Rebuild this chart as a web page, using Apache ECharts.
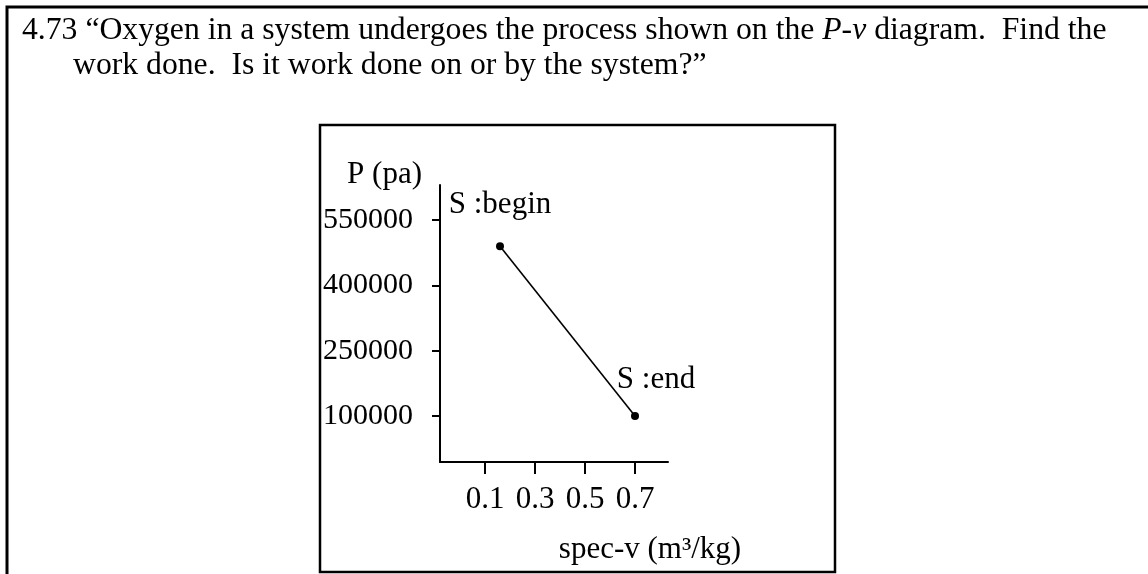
<!DOCTYPE html>
<html>
<head>
<meta charset="utf-8">
<script src="https://cdn.jsdelivr.net/npm/echarts@6/dist/echarts.min.js"></script>
<style>
  html, body { margin: 0; padding: 0; background: #fff; }
  #main { width: 1148px; height: 574px; }
</style>
</head>
<body>
<div id="main"></div>
<script>
// process points (state name, specific volume m3/kg, pressure Pa)
var stateNames = ['S :begin', 'S :end'];
var specV = [0.16, 0.70];
var pressure = [490000, 100000];

// tick labels
var vTicks = [0.1, 0.3, 0.5, 0.7];
var pTicks = [100000, 250000, 400000, 550000];

var serif = '"Liberation Serif", "Times New Roman", serif';

var chart = echarts.init(document.getElementById('main'));

var points = stateNames.map(function (n, i) {
  return {
    name: n,
    value: [specV[i], pressure[i]],
    label: { offset: i === 0 ? [0, 0] : [21, 5] }
  };
});

var option = {
  backgroundColor: '#fff',
  animation: false,
  title: [{
    text: '4.73 “Oxygen in a system undergoes the process shown on the {i|P-v} diagram.  Find the',
    left: 22,
    top: 15,
    padding: 0,
    textStyle: {
      fontFamily: serif, fontSize: 31.7, fontWeight: 'normal', color: '#000',
      rich: { i: { fontFamily: serif, fontSize: 31.7, fontStyle: 'italic', color: '#000' } }
    }
  }, {
    text: 'work done.  Is it work done on or by the system?”',
    left: 73,
    top: 50,
    padding: 0,
    textStyle: { fontFamily: serif, fontSize: 31.7, fontWeight: 'normal', color: '#000' }
  }],
  graphic: [{
    type: 'rect',
    shape: { x: 7, y: 7, width: 1300, height: 700 },
    style: { fill: 'none', stroke: '#000', lineWidth: 3 }
  }, {
    type: 'rect',
    shape: { x: 320, y: 125, width: 515, height: 447 },
    style: { fill: 'none', stroke: '#000', lineWidth: 2.5 }
  }],
  grid: { left: 440, right: 480, top: 185, bottom: 112 },
  xAxis: {
    type: 'value',
    min: -0.08,
    max: 0.832,
    name: 'spec-v (m³/kg)',
    nameLocation: 'middle',
    nameGap: 72,
    nameTextStyle: { fontFamily: serif, fontSize: 31, color: '#000', padding: [0, 0, 0, 192] },
    splitLine: { show: false },
    axisLine: { onZero: false, lineStyle: { color: '#000', width: 2 } },
    axisTick: { customValues: vTicks, length: 12, lineStyle: { color: '#000', width: 2 } },
    axisLabel: { customValues: vTicks, margin: 22, fontFamily: serif, fontSize: 31, color: '#000' }
  },
  yAxis: {
    type: 'value',
    min: -5600,
    max: 630400,
    name: 'P (pa)',
    nameLocation: 'end',
    nameGap: -5,
    nameTextStyle: { fontFamily: serif, fontSize: 31, color: '#000', align: 'right', verticalAlign: 'bottom', padding: [0, 18, 0, 0] },
    splitLine: { show: false },
    axisLine: { show: true, onZero: false, lineStyle: { color: '#000', width: 2 } },
    axisTick: { show: true, customValues: pTicks, length: 8, lineStyle: { color: '#000', width: 2 } },
    axisLabel: {
      customValues: pTicks, margin: 27, fontFamily: serif, fontSize: 30, color: '#000',
      formatter: function (v) { return String(v); }
    }
  },
  series: [{
    type: 'line',
    data: points,
    symbol: 'circle',
    symbolSize: 8,
    itemStyle: { color: '#000' },
    lineStyle: { color: '#000', width: 1.6 },
    label: {
      show: true,
      position: 'top',
      distance: 22,
      formatter: '{b}',
      fontFamily: serif,
      fontSize: 31,
      color: '#000'
    }
  }]
};

chart.setOption(option);
</script>
</body>
</html>
